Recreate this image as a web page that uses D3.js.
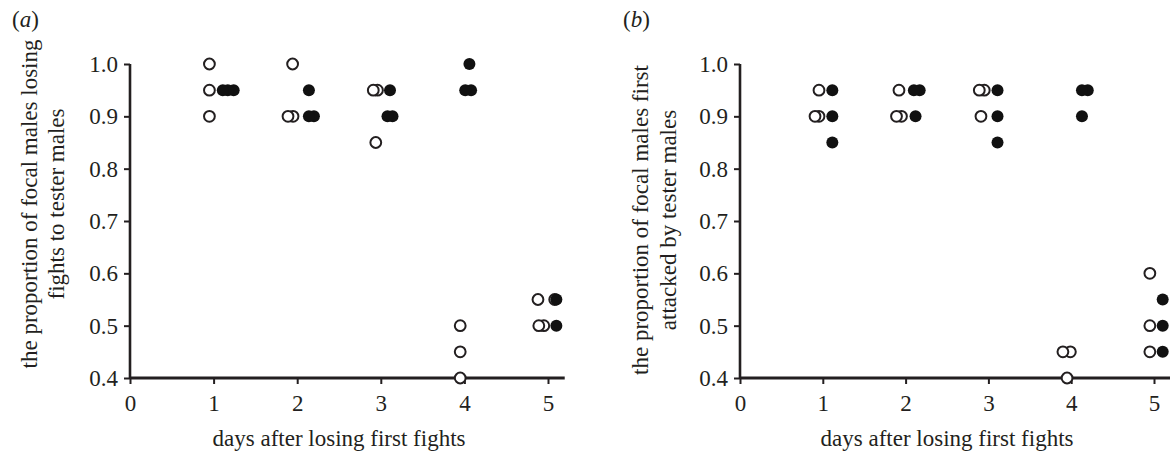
<!DOCTYPE html>
<html>
<head>
<meta charset="utf-8">
<script src="https://cdn.jsdelivr.net/npm/d3@7"></script>
<style>
  html, body { margin: 0; padding: 0; background: #fff; }
  svg text { font-family: "Liberation Serif", "Times New Roman", serif; fill: #231f20; }
</style>
</head>
<body>
<svg id="chart" width="1170" height="455"></svg>
<script>
// ---- data ----
const xTickValues = [0, 1, 2, 3, 4, 5];
const yTickValues = [0.4, 0.5, 0.6, 0.7, 0.8, 0.9, 1.0];

// panel (a): proportion of focal males losing fights to tester males
const aOpenDay  = [0.95, 0.95, 0.95, 1.945, 1.89, 1.95, 2.91, 2.96, 2.94, 3.95, 3.95, 3.95, 4.88, 5.08, 4.89, 4.95];
const aOpenProp = [1.0, 0.95, 0.9, 1.0, 0.9, 0.9, 0.95, 0.95, 0.85, 0.5, 0.45, 0.4, 0.55, 0.55, 0.5, 0.5];
const aFillDay  = [1.11, 1.17, 1.24, 2.14, 2.14, 2.20, 3.11, 3.08, 3.14, 4.06, 4.01, 4.08, 5.10, 5.10];
const aFillProp = [0.95, 0.95, 0.95, 0.95, 0.9, 0.9, 0.95, 0.9, 0.9, 1.0, 0.95, 0.95, 0.55, 0.5];

// panel (b): proportion of focal males first attacked by tester males
const bOpenDay  = [0.954, 0.906, 0.954, 1.92, 1.89, 1.95, 2.89, 2.95, 2.91, 3.90, 3.99, 3.95, 4.95, 4.95, 4.95];
const bOpenProp = [0.95, 0.9, 0.9, 0.95, 0.9, 0.9, 0.95, 0.95, 0.9, 0.45, 0.45, 0.4, 0.6, 0.5, 0.45];
const bFillDay  = [1.115, 1.115, 1.115, 2.10, 2.17, 2.12, 3.11, 3.11, 3.11, 4.13, 4.20, 4.13, 5.105, 5.105, 5.105];
const bFillProp = [0.95, 0.9, 0.85, 0.95, 0.95, 0.9, 0.95, 0.9, 0.85, 0.95, 0.95, 0.9, 0.55, 0.5, 0.45];

const xTitle = "days after losing first fights";
const panels = [
  { tag: "a", yTitle: ["the proportion of focal males losing", "fights to tester males"],
    openDay: aOpenDay, openProp: aOpenProp, fillDay: aFillDay, fillProp: aFillProp },
  { tag: "b", yTitle: ["the proportion of focal males first", "attacked by tester males"],
    openDay: bOpenDay, openProp: bOpenProp, fillDay: bFillDay, fillProp: bFillProp }
];

// ---- layout ----
const layout = [
  { left: 130, right: 548, xMaxDomain: 5.2, titleX: [29, 56], titleY: 204, labelX: 12 },
  { left: 740, right: 1154, xMaxDomain: 5.2, titleX: [640, 668], titleY: 220, labelX: 623 }
];
const yTop = 64, yBottom = 378;
const ink = "#231f20";
const fs = 23;
const svg = d3.select("#chart");

panels.forEach((p, i) => {
  const L = layout[i];
  const x = d3.scaleLinear().domain([0, 5]).range([L.left, L.right]);
  const y = d3.scaleLinear().domain([0.4, 1.0]).range([yBottom, yTop]);
  const g = svg.append("g");

  // y axis
  const yAxis = g.append("g").attr("transform", `translate(${L.left},0)`)
    .call(d3.axisLeft(y).tickValues(yTickValues).tickFormat(d3.format(".1f")).tickSize(6).tickPadding(6));
  // x axis
  const xAxis = g.append("g").attr("transform", `translate(0,${yBottom})`)
    .call(d3.axisBottom(x).tickValues(xTickValues).tickFormat(d3.format("d")).tickSize(6).tickPadding(11));
  xAxis.select(".domain").attr("d", `M${L.left},0H${x(L.xMaxDomain)}`);
  yAxis.select(".domain").attr("d", `M0,${yBottom}V${yTop}`);
  [xAxis, yAxis].forEach(ax => {
    ax.select(".domain").attr("stroke", ink).attr("stroke-width", 2.6);
    ax.selectAll(".tick line").attr("stroke", ink).attr("stroke-width", 2);
    ax.selectAll(".tick text").attr("font-size", fs).attr("fill", ink)
      .style("font-family", '"Liberation Serif", "Times New Roman", serif');
  });
  xAxis.select(".domain").attr("stroke-width", 3);

  // axis titles
  g.append("text").attr("x", (L.left + L.right) / 2).attr("y", 446)
    .attr("text-anchor", "middle").attr("font-size", fs).text(xTitle);
  p.yTitle.forEach((t, k) => {
    g.append("text")
      .attr("transform", `translate(${L.titleX[k]},${L.titleY}) rotate(-90)`)
      .attr("text-anchor", "middle").attr("dy", "0.35em").attr("font-size", fs).text(t);
  });
  // panel tag
  const tag = g.append("text").attr("x", L.labelX).attr("y", 27).attr("font-size", fs);
  tag.append("tspan").text("(");
  tag.append("tspan").attr("font-style", "italic").text(p.tag);
  tag.append("tspan").text(")");

  // points: open circles (leftmost drawn last), then filled
  const openPts = p.openDay.map((d, j) => ({ d, v: p.openProp[j] })).sort((a, b) => b.d - a.d);
  const fillPts = p.fillDay.map((d, j) => ({ d, v: p.fillProp[j] })).sort((a, b) => b.d - a.d);
  g.append("g").selectAll("circle").data(openPts).join("circle")
    .attr("cx", e => x(e.d)).attr("cy", e => y(e.v)).attr("r", 5.4)
    .attr("fill", "#fff").attr("stroke", ink).attr("stroke-width", 2);
  g.append("g").selectAll("circle").data(fillPts).join("circle")
    .attr("cx", e => x(e.d)).attr("cy", e => y(e.v)).attr("r", 6)
    .attr("fill", "#111");
});
</script>
</body>
</html>
